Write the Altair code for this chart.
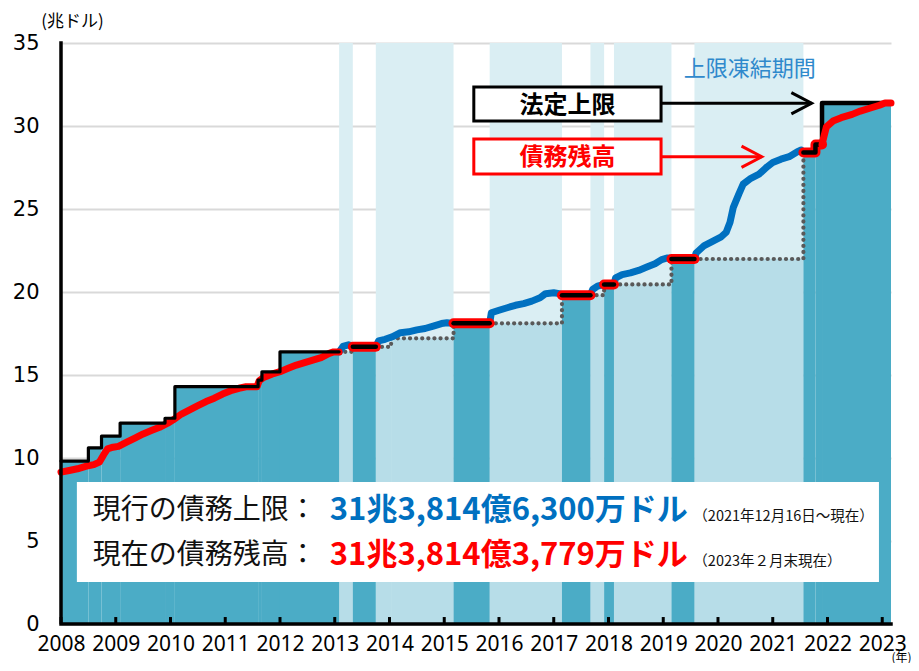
import altair as alt
import pandas as pd

# ---------------- data ----------------
year_ticks = list(range(2008, 2024))
y_ticks = [0, 5, 10, 15, 20, 25, 30, 35]

# debt-limit suspension periods (上限凍結期間)
susp_start = [2013.08, 2013.75, 2015.83, 2017.67, 2018.10, 2019.57]
susp_end = [2013.33, 2015.17, 2017.15, 2017.92, 2019.15, 2021.56]

# statutory limit while in force (法定上限), trillion USD
limit_start = [2008.00, 2008.50, 2008.74, 2009.08, 2009.90, 2010.08, 2011.60, 2011.67, 2012.00,
               2013.33, 2015.17, 2017.15, 2017.92, 2019.15, 2021.56, 2021.78, 2021.90]
limit_end = [2008.50, 2008.74, 2009.08, 2009.90, 2010.08, 2011.60, 2011.67, 2012.00, 2013.08,
             2013.75, 2015.83, 2017.67, 2018.10, 2019.57, 2021.78, 2021.90, 2023.16]
limit_value = [9.815, 10.615, 11.315, 12.104, 12.394, 14.294, 14.694, 15.194, 16.394,
               16.699, 18.113, 19.809, 20.456, 21.988, 28.401, 28.881, 31.381]

# reference level shown dotted during suspensions
ref_start = [2013.08, 2013.75, 2014.03, 2015.83, 2017.67, 2018.10, 2019.57]
ref_end = [2013.33, 2014.03, 2015.17, 2017.15, 2017.92, 2019.15, 2021.56]
ref_value = [16.394, 16.699, 17.212, 18.113, 19.809, 20.456, 21.988]

# debt outstanding (債務残高)
debt_pre_x = [2008.00, 2008.15, 2008.30, 2008.45, 2008.60, 2008.70, 2008.78, 2008.85, 2008.95,
              2009.05, 2009.20, 2009.35, 2009.50, 2009.65, 2009.80, 2009.95, 2010.05, 2010.20,
              2010.35, 2010.50, 2010.65, 2010.80, 2010.95, 2011.10, 2011.25, 2011.38, 2011.58,
              2011.62, 2011.70, 2011.85, 2012.00, 2012.15, 2012.30, 2012.45, 2012.60, 2012.75,
              2012.90, 2012.98, 2013.08]
debt_pre_y = [9.15, 9.25, 9.35, 9.50, 9.60, 9.75, 10.20, 10.55, 10.65,
              10.70, 10.95, 11.20, 11.45, 11.65, 11.85, 12.10, 12.30, 12.65,
              12.90, 13.15, 13.40, 13.60, 13.85, 14.05, 14.20, 14.29, 14.29,
              14.65, 14.85, 15.05, 15.20, 15.40, 15.60, 15.75, 15.90, 16.05,
              16.30, 16.39, 16.39]

debt_post_x = [2021.90, 2021.93, 2021.98, 2022.10, 2022.25, 2022.45, 2022.60, 2022.80,
               2022.95, 2023.05, 2023.16]
debt_post_y = [28.88, 29.30, 29.95, 30.30, 30.50, 30.70, 30.90, 31.10, 31.25, 31.38, 31.38]

blue1_x = [2013.08, 2013.15, 2013.25, 2013.33]
blue1_y = [16.39, 16.72, 16.82, 16.70]
blue2_x = [2013.75, 2013.80, 2013.92, 2014.05, 2014.20, 2014.35, 2014.50, 2014.65, 2014.80,
           2014.95, 2015.05, 2015.17]
blue2_y = [16.70, 17.05, 17.15, 17.30, 17.55, 17.60, 17.72, 17.80, 17.95, 18.10, 18.15, 18.11]
blue3_x = [2015.83, 2015.86, 2016.00, 2016.15, 2016.30, 2016.45, 2016.60, 2016.75, 2016.85,
           2017.00, 2017.10, 2017.15]
blue3_y = [18.11, 18.75, 18.90, 19.05, 19.20, 19.30, 19.45, 19.65, 19.90, 19.95, 19.90, 19.81]
blue4_x = [2017.67, 2017.71, 2017.80, 2017.92]
blue4_y = [19.81, 20.15, 20.35, 20.46]
blue5_x = [2018.10, 2018.13, 2018.25, 2018.40, 2018.55, 2018.70, 2018.85, 2018.97, 2019.08, 2019.15]
blue5_y = [20.46, 20.85, 21.05, 21.15, 21.30, 21.50, 21.70, 21.95, 22.05, 21.99]
blue6_x = [2019.57, 2019.60, 2019.75, 2019.90, 2020.05, 2020.15, 2020.22, 2020.28, 2020.38,
           2020.46, 2020.60, 2020.75, 2020.90, 2021.00, 2021.15, 2021.30, 2021.45, 2021.52, 2021.56]
blue6_y = [21.99, 22.35, 22.80, 23.05, 23.30, 23.60, 24.20, 25.10, 25.90,
           26.50, 26.85, 27.10, 27.55, 27.80, 28.00, 28.15, 28.45, 28.55, 28.40]

info_labels = ["現行の債務上限：", "現在の債務残高："]
info_values = ["31兆3,814億6,300万ドル", "31兆3,814億3,779万ドル"]
info_notes = ["（2021年12月16日～現在）", "（2023年２月末現在）"]

# ---------------- colours / fonts ----------------
C_BAND = "#daeef3"
C_LIGHT = "#b7dde8"
C_TEAL = "#4bacc6"
C_BLUE = "#0070c0"
C_RED = "#ff0000"
C_DOT = "#595959"
JP = "Noto Sans CJK JP"

X_MIN, X_MAX = 2008.0, 2023.16
xs = alt.Scale(domain=[X_MIN, X_MAX], nice=False, zero=False)
ys = alt.Scale(domain=[0, 35], nice=False, zero=True)

xaxis = alt.Axis(values=year_ticks, format="d", labelFont="Noto Sans", labelFontSize=21,
                 labelColor="black", labelPadding=9, ticks=False, domain=False, grid=False,
                 labelFlush=False, labelOverlap=False, title="(年)", titleFont=JP,
                 titleFontSize=12, titleFontWeight="normal", titleColor="black",
                 titleX=840, titleY=33, titleAlign="center", titleBaseline="middle")
yaxis = alt.Axis(values=y_ticks, labelFont="DejaVu Sans", labelFontSize=21, labelColor="black",
                 labelPadding=22, ticks=False, domain=False, grid=True, gridColor="#d9d9d9",
                 gridWidth=2, title="(兆ドル)", titleAngle=0, titleX=11, titleY=-22,
                 titleAlign="center", titleBaseline="middle", titleFont=JP, titleFontSize=17,
                 titleFontWeight="normal", titleColor="black")


def X(f):
    return alt.X(f"{f}:Q", scale=xs, axis=xaxis)


def Y(f):
    return alt.Y(f"{f}:Q", scale=ys, axis=yaxis)


def rect_layer(df, color, **kw):
    return alt.Chart(df).mark_rect(color=color, **kw).encode(
        x=X("x0"), x2="x1:Q", y=Y("y0"), y2="y1:Q")


def line_layer(df, color, width, **kw):
    return alt.Chart(df).mark_line(color=color, strokeWidth=width, strokeCap="round",
                                   strokeJoin="round", **kw).encode(
        x=X("x"), y=Y("y"), detail="seg:N", order="i:Q")


def poly_rows(seg, pts):
    return [{"seg": seg, "i": i, "x": x, "y": y} for i, (x, y) in enumerate(pts)]


# ---------------- frames ----------------
bands_df = pd.DataFrame({"x0": susp_start, "x1": susp_end, "y0": 0.0, "y1": 35.0})
light_df = pd.DataFrame({"x0": ref_start, "x1": ref_end, "y0": 0.0, "y1": ref_value})
teal_df = pd.DataFrame({"x0": limit_start, "x1": limit_end, "y0": 0.0, "y1": limit_value})

dot_rows = []
for k, (s, e) in enumerate(zip(susp_start, susp_end)):
    pts = []
    for a, b, v in zip(ref_start, ref_end, ref_value):
        if a >= s - 1e-9 and b <= e + 1e-9:
            pts += [(a, v), (b, v)]
    pts.append((e, limit_value[limit_start.index(e)]))
    dot_rows += poly_rows(k, pts)
dot_df = pd.DataFrame(dot_rows)

pre_pts = []
for i in range(9):
    pre_pts += [(limit_start[i], limit_value[i]), (limit_end[i], limit_value[i])]
black_pre_df = pd.DataFrame(poly_rows(0, pre_pts))

flat_rows = []
for i in range(9, 14):
    flat_rows += poly_rows(i, [(limit_start[i], limit_value[i]), (limit_end[i], limit_value[i])])
post_pts = []
for i in range(14, 17):
    post_pts += [(limit_start[i], limit_value[i]), (limit_end[i], limit_value[i])]
black_heavy_df = pd.DataFrame(flat_rows + poly_rows(99, post_pts))
red_under_df = pd.DataFrame(flat_rows + poly_rows(99, post_pts[:4]))

blue_rows = []
for k, (bx, by) in enumerate([(blue1_x, blue1_y), (blue2_x, blue2_y), (blue3_x, blue3_y),
                              (blue4_x, blue4_y), (blue5_x, blue5_y), (blue6_x, blue6_y)]):
    blue_rows += poly_rows(k, list(zip(bx, by)))
blue_df = pd.DataFrame(blue_rows)

red_pre_df = pd.DataFrame(poly_rows(0, list(zip(debt_pre_x, debt_pre_y))))
red_post_df = pd.DataFrame(poly_rows(0, list(zip(debt_post_x, debt_post_y))))

tick_df = pd.DataFrame({"x": year_ticks, "y0": 0.0, "y1": 0.42})
axis_df = pd.DataFrame(poly_rows(0, [(X_MIN, 35), (X_MIN, 0), (X_MAX, 0)]))

# annotation geometry (data coordinates)
info_box_df = pd.DataFrame({"x0": [2008.29], "x1": [2022.94], "y0": [2.53], "y1": [8.55]})
info_label_df = pd.DataFrame({"x": [2008.58, 2008.58], "y": [6.80, 4.07], "t": info_labels})
info_value_df = pd.DataFrame({"x": [2012.91, 2012.91], "y": [6.80, 4.07], "t": info_values,
                              "c": [C_BLUE, C_RED]})
info_note_df = pd.DataFrame({"x": [2019.55, 2019.55], "y": [6.45, 3.73], "t": info_notes})

box_df = pd.DataFrame({"x0": [2015.54, 2015.54], "x1": [2018.96, 2018.96],
                       "y0": [32.35, 29.22], "y1": [30.30, 27.11], "c": ["black", C_RED]})
box_text_df = pd.DataFrame({"x": [2017.25, 2017.25], "y": [31.22, 28.05],
                            "t": ["法定上限", "債務残高"], "c": ["black", C_RED]})
arrow_black_df = pd.DataFrame(
    poly_rows(0, [(2018.96, 31.37), (2021.71, 31.37)]) +
    poly_rows(1, [(2021.34, 32.01), (2021.71, 31.37), (2021.34, 30.73)]))
arrow_red_df = pd.DataFrame(
    poly_rows(0, [(2018.96, 28.15), (2020.80, 28.15)]) +
    poly_rows(1, [(2020.43, 28.79), (2020.80, 28.15), (2020.43, 27.51)]))
band_text_df = pd.DataFrame({"x": [2020.58], "y": [33.46], "t": ["上限凍結期間"]})

# ---------------- layers ----------------
layers = [
    rect_layer(bands_df, C_BAND),
    rect_layer(light_df, C_LIGHT),
    rect_layer(teal_df, C_TEAL),
    line_layer(dot_df, C_DOT, 4.2, strokeDash=[0.1, 6]),
    line_layer(blue_df, C_BLUE, 7),
    line_layer(red_pre_df, C_RED, 7),
    line_layer(red_under_df, C_RED, 10),
    line_layer(black_pre_df, "black", 3.2),
    line_layer(black_heavy_df, "black", 4.5),
    line_layer(red_post_df, C_RED, 7),
    alt.Chart(tick_df).mark_rule(color="black", strokeWidth=3).encode(
        x=X("x"), y=Y("y0"), y2="y1:Q"),
    alt.Chart(axis_df).mark_line(color="black", strokeWidth=3.5, strokeCap="square").encode(
        x=X("x"), y=Y("y"), detail="seg:N", order="i:Q"),
    rect_layer(info_box_df, "white"),
    alt.Chart(info_label_df).mark_text(font=JP, fontSize=28, align="left", baseline="middle",
                                       color="#111111").encode(x=X("x"), y=Y("y"), text="t:N"),
    alt.Chart(info_value_df).mark_text(font=JP, fontSize=31, fontWeight="bold", align="left",
                                       baseline="middle").encode(
        x=X("x"), y=Y("y"), text="t:N", color=alt.Color("c:N", scale=None)),
    alt.Chart(info_note_df).mark_text(font=JP, fontSize=14.5, align="left", baseline="middle",
                                      color="#111111").encode(x=X("x"), y=Y("y"), text="t:N"),
    alt.Chart(box_df).mark_rect(fill="white", strokeWidth=3).encode(
        x=X("x0"), x2="x1:Q", y=Y("y0"), y2="y1:Q", stroke=alt.Stroke("c:N", scale=None)),
    alt.Chart(box_text_df).mark_text(font=JP, fontSize=24, fontWeight="bold", align="center",
                                     baseline="middle").encode(
        x=X("x"), y=Y("y"), text="t:N", color=alt.Color("c:N", scale=None)),
    alt.Chart(arrow_black_df).mark_line(color="black", strokeWidth=3).encode(
        x=X("x"), y=Y("y"), detail="seg:N", order="i:Q"),
    alt.Chart(arrow_red_df).mark_line(color=C_RED, strokeWidth=3).encode(
        x=X("x"), y=Y("y"), detail="seg:N", order="i:Q"),
    alt.Chart(band_text_df).mark_text(font=JP, fontSize=22, align="center", baseline="middle",
                                      color="#2f89cc").encode(x=X("x"), y=Y("y"), text="t:N"),
]

chart = alt.layer(*layers).properties(
    width=830, height=581,
    padding={"left": 53, "top": 35, "right": 20, "bottom": 39},
    autosize=alt.AutoSizeParams(type="none"),
    background="white",
).configure_view(stroke=None)

chart.save("out.html", embed_options={"renderer": "svg", "actions": False})
